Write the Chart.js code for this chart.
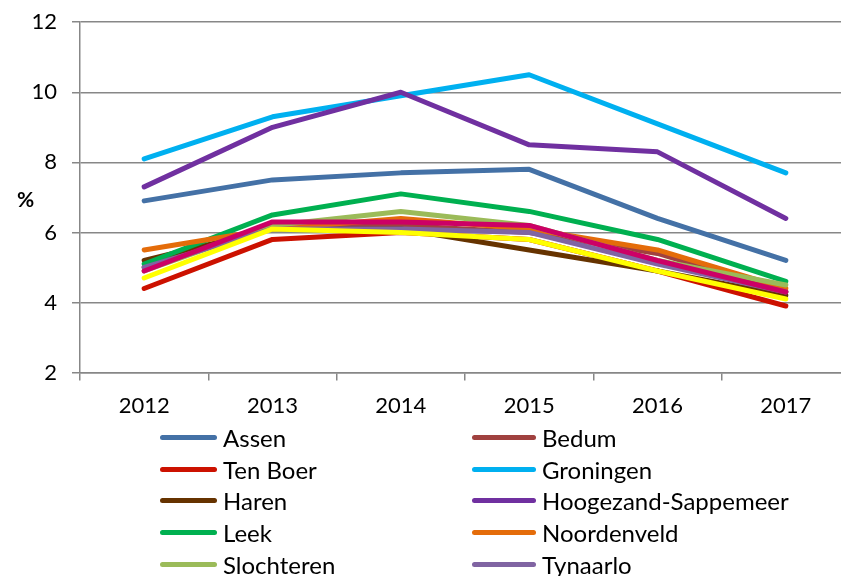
<!DOCTYPE html>
<html>
<head>
<meta charset="utf-8">
<script src="https://cdn.jsdelivr.net/npm/chart.js@4"></script>
<style>
  html, body { margin: 0; padding: 0; background: #fff; overflow: hidden; }
  #wrap { position: relative; width: 850px; height: 640px; }
  #grafiek { position: absolute; left: 0; top: -6px; }
  #pct { position: absolute; left: 17px; top: 186px; font: bold 21px Lato, sans-serif; color: #000; }
  #legenda { position: absolute; left: 160px; top: 422px; width: 700px;
             display: grid; grid-template-columns: 312px 388px; grid-auto-rows: 31.6px;
             font: 24px Lato, sans-serif; color: #000; }
  .item { display: flex; align-items: center; white-space: nowrap; }
  .streep { display: inline-block; width: 57px; height: 5px; border-radius: 3px; margin-right: 6px; }
  .item:nth-child(even) .streep { width: 64px; }
</style>
</head>
<body>
<div id="wrap">
  <canvas id="grafiek" width="850" height="437"></canvas>
  <div id="pct">%</div>
  <div id="legenda"></div>
</div>
<script>
var jaren = ['2012', '2013', '2014', '2015', '2016', '2017'];

var assen      = [6.9, 7.5, 7.7, 7.8, 6.4, 5.2];
var bedum      = [5.0, 6.2, 6.2, 6.0, 5.4, 4.3];
var tenBoer    = [4.4, 5.8, 6.0, 5.8, 4.9, 3.9];
var groningen  = [8.1, 9.3, 9.9, 10.5, 9.1, 7.7];
var haren      = [5.2, 6.1, 6.1, 5.5, 4.9, 4.2];
var hoogezand  = [7.3, 9.0, 10.0, 8.5, 8.3, 6.4];
var leek       = [5.1, 6.5, 7.1, 6.6, 5.8, 4.6];
var noordenveld= [5.5, 6.1, 6.4, 6.1, 5.5, 4.4];
var slochteren = [4.9, 6.2, 6.6, 6.2, 5.2, 4.5];
var tynaarlo   = [5.0, 6.1, 6.1, 6.0, 5.1, 4.3];
var winsum     = [4.9, 6.3, 6.3, 6.2, 5.2, 4.3];
var zuidhorn   = [4.7, 6.1, 6.0, 5.8, 4.9, 4.1];

var yTicks = [2, 4, 6, 8, 10, 12];

var reeksen = [
    ['Assen', assen, '#4471A6'],
    ['Bedum', bedum, '#A0413F'],
    ['Ten Boer', tenBoer, '#CC1100'],
    ['Groningen', groningen, '#00B0F0'],
    ['Haren', haren, '#663300'],
    ['Hoogezand-Sappemeer', hoogezand, '#7030A0'],
    ['Leek', leek, '#00B050'],
    ['Noordenveld', noordenveld, '#E46C0A'],
    ['Slochteren', slochteren, '#9BBB59'],
    ['Tynaarlo', tynaarlo, '#8064A2'],
    ['Winsum', winsum, '#CC0066'],
    ['Zuidhorn', zuidhorn, '#FFFF00']
];

var datasets = reeksen.map(function (r, i) {
    return {
        label: r[0],
        data: r[1],
        borderColor: r[2],
        backgroundColor: r[2],
        borderWidth: 5,
        pointRadius: 0,
        tension: 0,
        fill: false,
        borderCapStyle: 'round',
        borderJoinStyle: 'round',
        order: reeksen.length - i
    };
});

var grijs = '#878787';

var chart = new Chart(document.getElementById('grafiek'), {
    type: 'line',
    data: { labels: jaren, datasets: datasets },
    options: {
        responsive: false,
        animation: false,
        layout: { padding: { top: 6, right: 0, left: 0, bottom: 0 } },
        plugins: { legend: { display: false }, tooltip: { enabled: false } },
        scales: {
            x: {
                offset: true,
                grid: { offset: true, drawOnChartArea: false, color: grijs, tickLength: 8, lineWidth: 1.5 },
                border: { color: grijs, width: 1.5 },
                ticks: { color: '#000', font: { family: 'Lato', size: 22 }, padding: 12 }
            },
            y: {
                min: 2,
                max: 12,
                afterBuildTicks: function (axis) {
                    axis.ticks = yTicks.map(function (v) { return { value: v }; });
                },
                afterFit: function (axis) { axis.width = 80; },
                grid: { color: grijs, tickLength: 8, lineWidth: 1.5 },
                border: { color: grijs, width: 1.5 },
                ticks: { color: '#000', font: { family: 'Lato', size: 22 }, padding: 15 }
            }
        }
    }
});

var legenda = document.getElementById('legenda');
chart.data.datasets.forEach(function (ds) {
    var item = document.createElement('div');
    item.className = 'item';
    var streep = document.createElement('span');
    streep.className = 'streep';
    streep.style.background = ds.borderColor;
    var tekst = document.createElement('span');
    tekst.textContent = ds.label;
    item.appendChild(streep);
    item.appendChild(tekst);
    legenda.appendChild(item);
});
</script>
</body>
</html>
